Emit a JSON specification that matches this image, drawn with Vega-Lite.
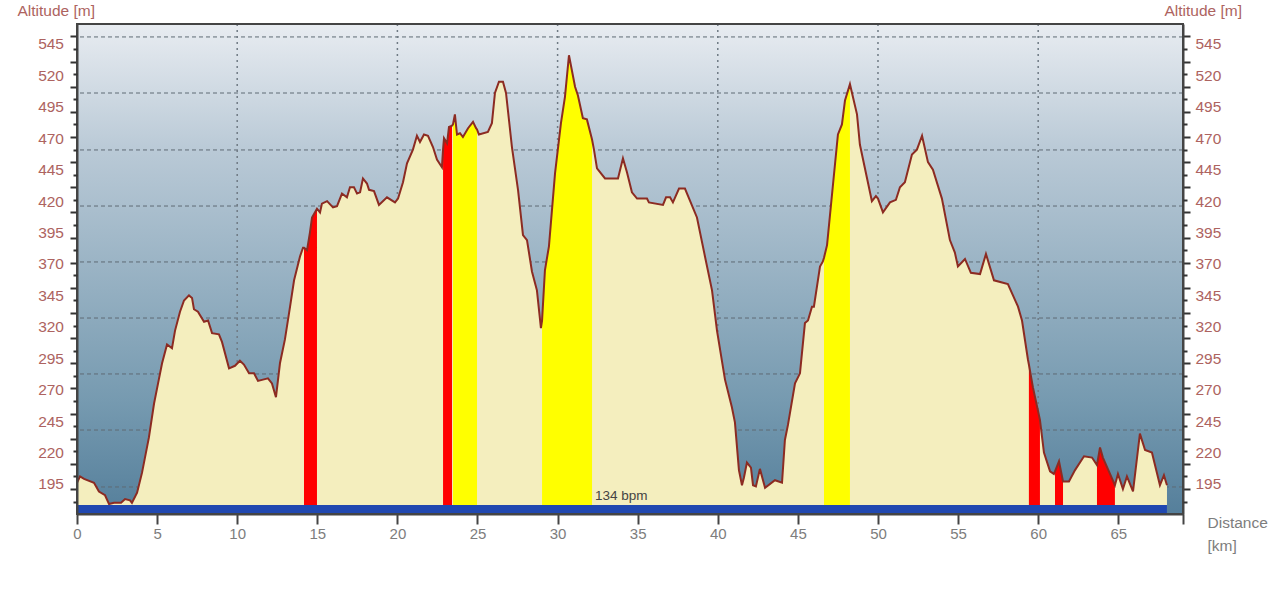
{
  "$schema": "https://vega.github.io/schema/vega-lite/v6.json",
  "width": 1106,
  "height": 490,
  "autosize": {"type": "none"},
  "padding": {"left": 77, "top": 24, "right": 97, "bottom": 78},
  "background": "white",
  "config": {
    "font": "Liberation Sans",
    "view": {"stroke": null},
    "axis": {"grid": false, "title": null}
  },
  "datasets": {
    "frame": [{"x0": 0, "x1": 69.04, "y0": 171.1, "y1": 560.9}],
    "bar": [{"x0": 0, "x1": 68.04, "y0": 171.1, "y1": 178.3, "label": "134 bpm", "labelKm": 32.33, "labelAlt": 185.4}],
    "gridH": [{"alt": 550.6}, {"alt": 506}, {"alt": 460.7}, {"alt": 416.1}, {"alt": 371.6}, {"alt": 327}, {"alt": 282.5}, {"alt": 237.9}, {"alt": 192.6}],
    "gridV": [{"km": 10}, {"km": 20}, {"km": 30}, {"km": 40}, {"km": 50}, {"km": 60}],
    "profile": [
      {"km":0,"alt":196},{"km":0.19,"alt":201},{"km":0.44,"alt":199},{"km":1.06,"alt":196},{"km":1.37,"alt":189},{"km":1.75,"alt":186},{"km":2,"alt":179},{"km":2.31,"alt":180},{"km":2.75,"alt":180},{"km":3,"alt":183},{"km":3.31,"alt":182},{"km":3.43,"alt":180},{"km":3.75,"alt":188},{"km":4.06,"alt":204},{"km":4.49,"alt":232},{"km":4.81,"alt":259},{"km":5.06,"alt":275},{"km":5.31,"alt":291},{"km":5.62,"alt":306},{"km":5.93,"alt":303},{"km":6.12,"alt":317},{"km":6.43,"alt":332},{"km":6.68,"alt":341},{"km":6.99,"alt":345},{"km":7.18,"alt":343},{"km":7.3,"alt":334},{"km":7.55,"alt":332},{"km":7.93,"alt":324},{"km":8.18,"alt":325},{"km":8.43,"alt":315},{"km":8.86,"alt":314},{"km":9.05,"alt":308},{"km":9.49,"alt":287},{"km":9.86,"alt":289},{"km":10.17,"alt":293},{"km":10.42,"alt":290},{"km":10.74,"alt":283},{"km":11.05,"alt":283},{"km":11.3,"alt":277},{"km":11.61,"alt":278},{"km":11.92,"alt":279},{"km":12.17,"alt":275},{"km":12.42,"alt":264},{"km":12.67,"alt":291},{"km":12.98,"alt":310},{"km":13.3,"alt":336},{"km":13.55,"alt":357},{"km":13.92,"alt":376},{"km":14.11,"alt":383},
      {"km":14.17,"alt":383,"zone":"r1"},{"km":14.36,"alt":381,"zone":"r1"},{"km":14.54,"alt":395,"zone":"r1"},{"km":14.67,"alt":407,"zone":"r1"},{"km":14.98,"alt":414,"zone":"r1"},
      {"km":15.17,"alt":411},{"km":15.29,"alt":418},{"km":15.61,"alt":420},{"km":15.98,"alt":415},{"km":16.23,"alt":416},{"km":16.54,"alt":426},{"km":16.85,"alt":423},{"km":17.04,"alt":431},{"km":17.29,"alt":431},{"km":17.48,"alt":426},{"km":17.67,"alt":427},{"km":17.85,"alt":438},{"km":18.1,"alt":434},{"km":18.23,"alt":429},{"km":18.54,"alt":428},{"km":18.85,"alt":417},{"km":19.35,"alt":423},{"km":19.85,"alt":419},{"km":20.04,"alt":422},{"km":20.35,"alt":435},{"km":20.6,"alt":450},{"km":20.97,"alt":461},{"km":21.22,"alt":472},{"km":21.41,"alt":467},{"km":21.66,"alt":473},{"km":21.91,"alt":472},{"km":22.22,"alt":463},{"km":22.47,"alt":453},{"km":22.78,"alt":447},
      {"km":22.85,"alt":461,"zone":"r2"},{"km":22.91,"alt":470,"zone":"r2"},{"km":23.1,"alt":466,"zone":"r2"},{"km":23.22,"alt":479,"zone":"r2"},{"km":23.41,"alt":480,"zone":"r2"},
      {"km":23.47,"alt":481,"zone":"y1"},{"km":23.59,"alt":489,"zone":"y1"},{"km":23.72,"alt":473,"zone":"y1"},{"km":23.91,"alt":474,"zone":"y1"},{"km":24.09,"alt":471,"zone":"y1"},{"km":24.41,"alt":478,"zone":"y1"},{"km":24.72,"alt":483,"zone":"y1"},{"km":24.91,"alt":478,"zone":"y1"},{"km":24.97,"alt":477,"zone":"y1"},
      {"km":25.09,"alt":473},{"km":25.65,"alt":475},{"km":25.9,"alt":482},{"km":26.09,"alt":506},{"km":26.34,"alt":515},{"km":26.59,"alt":515},{"km":26.78,"alt":506},{"km":27.15,"alt":463},{"km":27.53,"alt":429},{"km":27.84,"alt":393},{"km":28.09,"alt":389},{"km":28.4,"alt":364},{"km":28.71,"alt":349},{"km":28.96,"alt":319},
      {"km":29.03,"alt":325,"zone":"y2"},{"km":29.21,"alt":365,"zone":"y2"},{"km":29.46,"alt":384,"zone":"y2"},{"km":29.84,"alt":442,"zone":"y2"},{"km":30.21,"alt":482,"zone":"y2"},{"km":30.46,"alt":503,"zone":"y2"},{"km":30.71,"alt":536,"zone":"y2"},{"km":31.09,"alt":511,"zone":"y2"},{"km":31.27,"alt":504,"zone":"y2"},{"km":31.58,"alt":486,"zone":"y2"},{"km":31.83,"alt":485,"zone":"y2"},{"km":32.15,"alt":469,"zone":"y2"},
      {"km":32.27,"alt":461},{"km":32.46,"alt":446},{"km":32.96,"alt":438},{"km":33.77,"alt":438},{"km":34.08,"alt":454},{"km":34.33,"alt":443},{"km":34.64,"alt":427},{"km":34.96,"alt":422},{"km":35.58,"alt":422},{"km":35.7,"alt":419},{"km":36.58,"alt":417},{"km":36.77,"alt":423},{"km":37.02,"alt":423},{"km":37.2,"alt":419},{"km":37.58,"alt":430},{"km":37.95,"alt":430},{"km":38.7,"alt":407},{"km":39.2,"alt":376},{"km":39.64,"alt":349},{"km":39.95,"alt":317},{"km":40.45,"alt":278},{"km":40.88,"alt":256},{"km":41.07,"alt":244},{"km":41.32,"alt":206},{"km":41.51,"alt":194},{"km":41.63,"alt":200},{"km":41.82,"alt":212},{"km":42.07,"alt":208},{"km":42.2,"alt":194},{"km":42.38,"alt":193},{"km":42.63,"alt":207},{"km":42.95,"alt":192},{"km":43.57,"alt":198},{"km":44.01,"alt":196},{"km":44.19,"alt":230},{"km":44.38,"alt":242},{"km":44.82,"alt":275},{"km":45.13,"alt":283},{"km":45.44,"alt":323},{"km":45.63,"alt":325},{"km":45.88,"alt":336},{"km":46,"alt":336},{"km":46.38,"alt":368},{"km":46.56,"alt":372},
      {"km":46.63,"alt":375,"zone":"y3"},{"km":46.82,"alt":385,"zone":"y3"},{"km":47.19,"alt":433,"zone":"y3"},{"km":47.5,"alt":473,"zone":"y3"},{"km":47.75,"alt":481,"zone":"y3"},{"km":47.94,"alt":500,"zone":"y3"},{"km":48.25,"alt":513,"zone":"y3"},
      {"km":48.69,"alt":489},{"km":48.87,"alt":465},{"km":49.62,"alt":420},{"km":49.87,"alt":424},{"km":50,"alt":422},{"km":50.31,"alt":411},{"km":50.75,"alt":419},{"km":51.12,"alt":421},{"km":51.37,"alt":431},{"km":51.68,"alt":435},{"km":52.12,"alt":457},{"km":52.43,"alt":461},{"km":52.75,"alt":472},{"km":53.12,"alt":451},{"km":53.43,"alt":445},{"km":53.99,"alt":422},{"km":54.49,"alt":389},{"km":54.8,"alt":379},{"km":54.99,"alt":368},{"km":55.43,"alt":374},{"km":55.8,"alt":363},{"km":56.37,"alt":362},{"km":56.74,"alt":378},{"km":57.24,"alt":357},{"km":58.11,"alt":354},{"km":58.74,"alt":336},{"km":58.99,"alt":325},{"km":59.36,"alt":294},
      {"km":59.42,"alt":290,"zone":"r3"},{"km":59.67,"alt":272,"zone":"r3"},{"km":60.11,"alt":246,"zone":"r3"},
      {"km":60.36,"alt":220},{"km":60.74,"alt":205},{"km":60.98,"alt":203},
      {"km":61.05,"alt":205,"zone":"r4"},{"km":61.3,"alt":213,"zone":"r4"},{"km":61.55,"alt":197,"zone":"r4"},
      {"km":61.92,"alt":197},{"km":62.3,"alt":206},{"km":62.86,"alt":217},{"km":63.36,"alt":216},
      {"km":63.67,"alt":210,"zone":"r5"},{"km":63.86,"alt":224,"zone":"r5"},{"km":64.04,"alt":216,"zone":"r5"},{"km":64.79,"alt":194,"zone":"r5"},
      {"km":64.98,"alt":203},{"km":65.29,"alt":191},{"km":65.54,"alt":201},{"km":65.92,"alt":189},{"km":66.35,"alt":235},{"km":66.67,"alt":222},{"km":67.1,"alt":220},{"km":67.6,"alt":194},{"km":67.85,"alt":202},{"km":68.04,"alt":194}
    ]
  },
  "resolve": {"axis": {"x": "independent", "y": "independent"}},
  "layer": [
    {
      "data": {"name": "frame"},
      "mark": {
        "type": "rect",
        "fill": {
          "gradient": "linear", "x1": 0, "y1": 0, "x2": 0, "y2": 1,
          "stops": [
            {"offset": 0, "color": "#e8ecf1"},
            {"offset": 0.26, "color": "#b9c9d6"},
            {"offset": 0.77, "color": "#769ab0"},
            {"offset": 1, "color": "#557f9b"}
          ]
        }
      },
      "encoding": {
        "x": {"field": "x0", "type": "quantitative", "scale": {"domain": [0, 69.04], "nice": false, "zero": false}, "axis": null},
        "x2": {"field": "x1"},
        "y": {
          "field": "y0", "type": "quantitative",
          "scale": {"domain": [171.1, 560.9], "nice": false, "zero": false},
          "axis": {
            "orient": "left", "values": [195, 220, 245, 270, 295, 320, 345, 370, 395, 420, 445, 470, 495, 520, 545],
            "ticks": false, "domain": false, "labelPadding": 13.5, "labelColor": "#ad6360", "labelFontSize": 15.5,
            "title": "Altitude [m]", "titleAngle": 0, "titleAlign": "left", "titleBaseline": "middle",
            "titleX": -60, "titleY": -14, "titleColor": "#ad6360", "titleFontSize": 15.5, "titleFontWeight": "normal"
          }
        },
        "y2": {"field": "y1"}
      }
    },
    {
      "data": {"name": "gridH"},
      "mark": {"type": "rule", "stroke": "#5f6b74", "strokeWidth": 1, "strokeDash": [4, 3]},
      "encoding": {
        "y": {
          "field": "alt", "type": "quantitative",
          "axis": {
            "orient": "right", "values": [195, 220, 245, 270, 295, 320, 345, 370, 395, 420, 445, 470, 495, 520, 545],
            "ticks": false, "domain": false, "labelPadding": 12, "labelColor": "#ad6360", "labelFontSize": 15.5,
            "title": "Altitude [m]", "titleAngle": 0, "titleAlign": "left", "titleBaseline": "middle",
            "titleX": -19, "titleY": -14, "titleColor": "#ad6360", "titleFontSize": 15.5, "titleFontWeight": "normal"
          }
        }
      }
    },
    {
      "data": {"name": "gridV"},
      "mark": {"type": "rule", "stroke": "#6f7a84", "strokeWidth": 1.5, "strokeDash": [2, 4]},
      "encoding": {"x": {"field": "km", "type": "quantitative", "axis": null}}
    },
    {
      "data": {"name": "profile"},
      "mark": {"type": "area", "color": "#f4eebe"},
      "encoding": {
        "x": {
          "field": "km", "type": "quantitative",
          "axis": {
            "orient": "bottom",
            "values": [0, 5, 10, 15, 20, 25, 30, 35, 40, 45, 50, 55, 60, 65, 69.04],
            "labelExpr": "datum.value > 66 ? '' : datum.label",
            "domain": true, "domainColor": "#444444", "domainWidth": 2, "tickColor": "#444444", "tickWidth": 2, "tickSize": 10,
            "labelColor": "#7d7d7d", "labelFontSize": 15, "labelPadding": 2, "labelFlush": false, "labelOverlap": false,
            "title": ["Distance", "[km]"], "titleX": 1130, "titleY": 8, "titleAlign": "left", "titleBaseline": "middle",
            "titleLineHeight": 23, "titleColor": "#7d7d7d", "titleFontSize": 15.5, "titleFontWeight": "normal",
            "zindex": 1
          }
        },
        "y": {
          "field": "alt", "type": "quantitative",
          "axis": {
            "orient": "left", "values": [191, 231, 271, 311, 351, 391, 431, 471, 511, 551, 211, 251, 291, 331, 371, 411, 451, 491, 531],
            "labels": false, "domain": true, "domainColor": "#444444", "domainWidth": 2, "tickColor": "#333333", "tickWidth": 2, "tickSize": 7, "zindex": 1
          }
        },
        "y2": {"datum": 171.1}
      }
    },
    {
      "data": {"name": "profile"},
      "transform": [{"filter": "isValid(datum.zone)"}],
      "mark": {"type": "area"},
      "encoding": {
        "x": {"field": "km", "type": "quantitative", "axis": null},
        "y": {
          "field": "alt", "type": "quantitative",
          "axis": {
            "orient": "left", "values": [181, 201, 221, 241, 261, 281, 301, 321, 341, 361, 381, 401, 421, 441, 461, 481, 501, 521, 541],
            "labels": false, "domain": false, "tickColor": "#333333", "tickWidth": 2, "tickSize": 4, "zindex": 1
          }
        },
        "y2": {"datum": 171.1},
        "color": {
          "field": "zone", "type": "nominal", "legend": null,
          "scale": {
            "domain": ["r1", "r2", "r3", "r4", "r5", "y1", "y2", "y3"],
            "range": ["#ff0000", "#ff0000", "#ff0000", "#ff0000", "#ff0000", "#ffff00", "#ffff00", "#ffff00"]
          }
        }
      }
    },
    {
      "data": {"name": "profile"},
      "mark": {"type": "line", "stroke": "#8c2b22", "strokeWidth": 2},
      "encoding": {
        "x": {"field": "km", "type": "quantitative", "axis": null},
        "y": {
          "field": "alt", "type": "quantitative",
          "axis": {
            "orient": "right", "values": [191, 231, 271, 311, 351, 391, 431, 471, 511, 551, 211, 251, 291, 331, 371, 411, 451, 491, 531],
            "labels": false, "domain": true, "domainColor": "#444444", "domainWidth": 2, "tickColor": "#333333", "tickWidth": 2, "tickSize": 7, "zindex": 1
          }
        }
      }
    },
    {
      "data": {"name": "bar"},
      "mark": {"type": "rect", "fill": "#2048b0"},
      "encoding": {
        "x": {"field": "x0", "type": "quantitative", "axis": null},
        "x2": {"field": "x1"},
        "y": {
          "field": "y0", "type": "quantitative",
          "axis": {
            "orient": "right", "values": [181, 201, 221, 241, 261, 281, 301, 321, 341, 361, 381, 401, 421, 441, 461, 481, 501, 521, 541],
            "labels": false, "domain": false, "tickColor": "#333333", "tickWidth": 2, "tickSize": 4, "zindex": 1
          }
        },
        "y2": {"field": "y1"}
      }
    },
    {
      "data": {"name": "bar"},
      "mark": {"type": "text", "align": "left", "baseline": "middle", "fontSize": 13.5, "color": "#444444"},
      "encoding": {
        "x": {"field": "labelKm", "type": "quantitative", "axis": null},
        "y": {"field": "labelAlt", "type": "quantitative", "axis": null},
        "text": {"field": "label"}
      }
    },
    {
      "data": {"name": "frame"},
      "mark": {"type": "rect", "fillOpacity": 0, "stroke": "#444444", "strokeWidth": 2},
      "encoding": {
        "x": {"field": "x0", "type": "quantitative", "axis": null},
        "x2": {"field": "x1"},
        "y": {"field": "y0", "type": "quantitative", "axis": null},
        "y2": {"field": "y1"}
      }
    }
  ]
}
